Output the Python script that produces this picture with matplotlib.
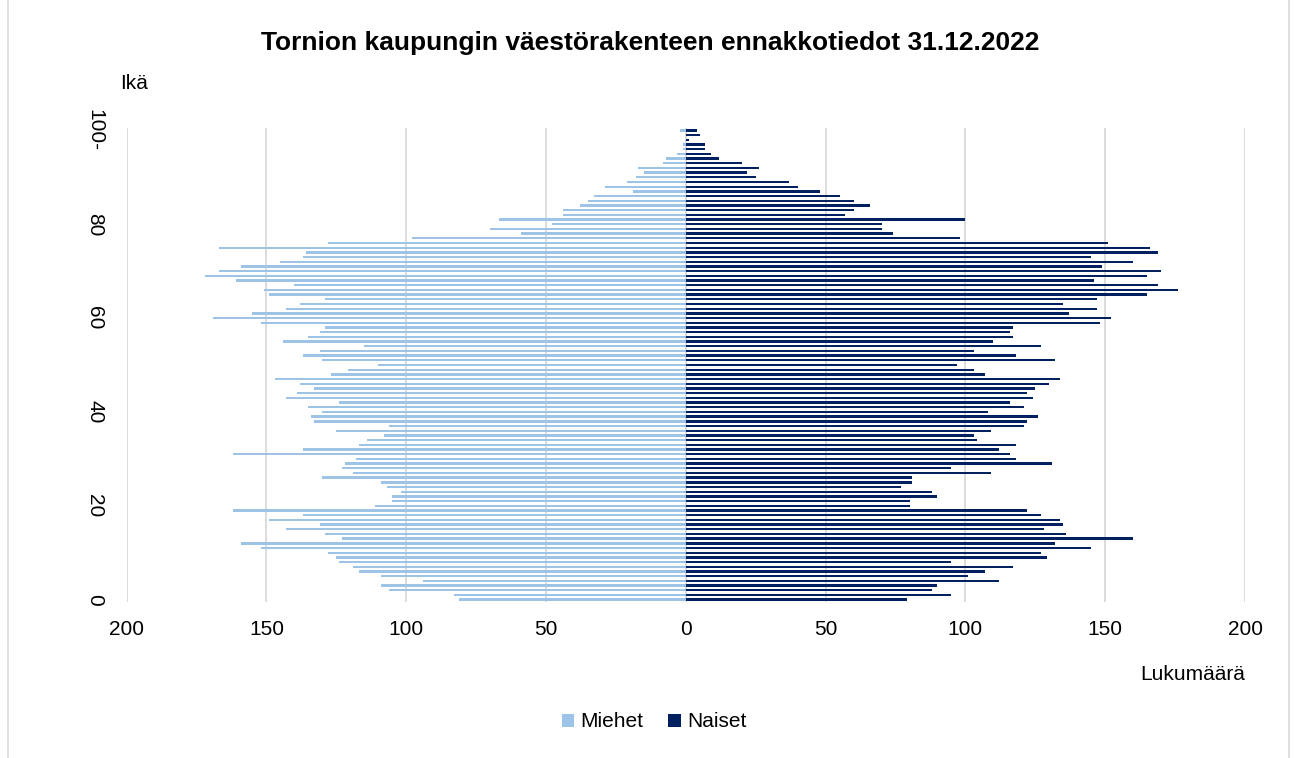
import numpy as np
import matplotlib
matplotlib.use("Agg")
import matplotlib.pyplot as plt
from matplotlib.lines import Line2D

plt.rcParams['font.family'] = ['Liberation Sans', 'DejaVu Sans']

########################################################
# DATA (ages 0 ... 100-)

ages = np.arange(0, 101)
age_labels = ["0", "20", "40", "60", "80", "100-"]
age_ticks = [0, 20, 40, 60, 80, 100]

# men per age, 0..100-
miehet = [81, 83, 106, 109, 94, 109, 117, 119, 124, 125,
          128, 152, 159, 123, 129, 143, 131, 149, 137, 162,
          111, 105, 105, 102, 107, 109, 130, 119, 123, 122,
          118, 162, 137, 117, 114, 108, 125, 106, 133, 134,
          130, 135, 124, 143, 139, 133, 138, 147, 127, 121,
          110, 130, 137, 131, 115, 144, 135, 131, 129, 152,
          169, 155, 143, 138, 129, 149, 151, 140, 161, 172,
          167, 159, 145, 137, 136, 167, 128, 98, 59, 70,
          48, 67, 44, 44, 38, 35, 33, 19, 29, 21,
          18, 15, 17, 8, 7, 3, 1, 1, 0, 0,
          2]

# women per age, 0..100-
naiset = [79, 95, 88, 90, 112, 101, 107, 117, 95, 129,
          127, 145, 132, 160, 136, 128, 135, 134, 127, 122,
          80, 80, 90, 88, 77, 81, 81, 109, 95, 131,
          118, 116, 112, 118, 104, 103, 109, 121, 122, 126,
          108, 121, 116, 124, 122, 125, 130, 134, 107, 103,
          97, 132, 118, 103, 127, 110, 117, 116, 117, 148,
          152, 137, 147, 135, 147, 165, 176, 169, 146, 165,
          170, 149, 160, 145, 169, 166, 151, 98, 74, 70,
          70, 100, 57, 60, 66, 60, 55, 48, 40, 37,
          25, 22, 26, 20, 12, 9, 7, 7, 1, 5,
          4]

x_ticks = [-200, -150, -100, -50, 0, 50, 100, 150, 200]

########################################################
# PLOT

MEN_COLOR = "#9DC3E6"
WOMEN_COLOR = "#002060"
GRID_COLOR = "#D9D9D9"

fig = plt.figure(figsize=(12.95, 7.58), dpi=100)
ax = fig.add_axes([0.0978, 0.2058, 0.9614 - 0.0978, 0.8311 - 0.2058])

ax.barh(ages, -np.array(miehet), height=0.5, color=MEN_COLOR, label="Miehet", zorder=3)
ax.barh(ages, naiset, height=0.5, color=WOMEN_COLOR, label="Naiset", zorder=3)

ax.set_xlim(-200, 200)
ax.set_ylim(-0.5, 100.5)
ax.set_xticks(x_ticks)
ax.set_xticklabels([str(abs(v)) for v in x_ticks])
ax.set_yticks(age_ticks)
ax.set_yticklabels(age_labels, rotation=-90, va="center")

ax.grid(axis="x", color=GRID_COLOR, linewidth=1.3, zorder=0)
ax.grid(axis="y", visible=False)
for s in ax.spines.values():
    s.set_visible(False)
ax.tick_params(axis="both", length=0, labelsize=15, colors="black")
ax.tick_params(axis="x", pad=13)
ax.tick_params(axis="y", pad=16)

fig.text(0.502, 0.943, "Tornion kaupungin väestörakenteen ennakkotiedot 31.12.2022",
         ha="center", va="center", fontsize=19, fontweight="bold")
fig.text(0.0927, 0.8905, "Ikä", ha="left", va="center", fontsize=15)
fig.text(0.9614, 0.1095, "Lukumäärä", ha="right", va="center", fontsize=15)

leg = fig.legend(loc="center", bbox_to_anchor=(0.505, 0.0475), ncol=2, frameon=False,
                 fontsize=15, handlelength=0.6, handleheight=0.6, handletextpad=0.3,
                 columnspacing=1.2)

# chart area border (left and right edges visible in the original)
fig.add_artist(Line2D([8 / 1295, 8 / 1295], [0, 1], transform=fig.transFigure,
                      color=GRID_COLOR, linewidth=1.2))
fig.add_artist(Line2D([1289 / 1295, 1289 / 1295], [0, 1], transform=fig.transFigure,
                      color=GRID_COLOR, linewidth=1.2))

fig.savefig("out.png", dpi=100)
